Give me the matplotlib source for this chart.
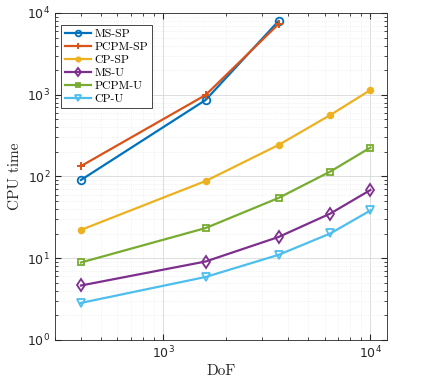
import matplotlib.pyplot as plt
from matplotlib.font_manager import FontProperties

# degrees of freedom (20^2 ... 100^2)
dof = [400, 1600, 3600, 6400, 10000]

# CPU times per method
ms_sp = [90.6, 863, 7980]
pcpm_sp = [134, 993, 7330]
cp_sp = [22.2, 88, 243, 565, 1143]
ms_u = [4.64, 9.12, 18.2, 35.2, 68.4]
pcpm_u = [8.87, 23.4, 54.6, 115, 226]
cp_u = [2.84, 5.9, 11.0, 20.1, 38.4]

series = [
    ('MS-SP', ms_sp, 'o', '#0072BD', 5.5),
    ('PCPM-SP', pcpm_sp, '+', '#D95319', 6),
    ('CP-SP', cp_sp, '.', '#EDB120', 8),
    ('MS-U', ms_u, 'd', '#7E2F8E', 6),
    ('PCPM-U', pcpm_u, 's', '#77AC30', 4.5),
    ('CP-U', cp_u, 'v', '#4DBEEE', 6),
]

serif = FontProperties(family='cmr10', size=11)

fig = plt.figure(figsize=(4.27, 3.82), dpi=100)
ax = fig.add_axes([0.129, 0.110, 0.777, 0.856])

for name, vals, mk, col, size in series:
    n = len(vals)
    if mk in ('.', '+'):
        ax.plot(dof[:n], vals, marker=mk, color=col, lw=1.6,
                ms=size, mew=1.4, label=name)
    else:
        ax.plot(dof[:n], vals, marker=mk, color=col, lw=1.6, ms=size,
                mew=1.3, mfc='none', label=name)

ax.set_xscale('log')
ax.set_yscale('log')
ax.set_xlim(300, 12000)
ax.set_ylim(1, 1e4)

ax.grid(True, which='major', color='#d8d8d8', lw=0.6)
ax.grid(True, which='minor', color='#e8e8e8', lw=0.5, ls=':')
ax.tick_params(which='both', direction='in', top=True, right=True,
               colors='#262626', labelsize=9)
ax.tick_params(which='major', length=4)
ax.tick_params(which='minor', length=2)
for sp in ax.spines.values():
    sp.set_color('#262626')
    sp.set_linewidth(0.6)

ax.set_xlabel('DoF', fontproperties=serif, labelpad=2, color='#262626')
ax.set_ylabel('CPU time', fontproperties=serif, labelpad=4, color='#262626')

leg = ax.legend(loc='upper left', bbox_to_anchor=(0.018, 0.963),
                prop=FontProperties(family='cmr10', size=8.5),
                fancybox=False, edgecolor='#262626', framealpha=1,
                handlelength=2.2, borderpad=0.35, labelspacing=0.22,
                handletextpad=0.25, borderaxespad=0, markerscale=0.75)
leg.get_frame().set_linewidth(0.6)

fig.savefig('out.png', dpi=100)
